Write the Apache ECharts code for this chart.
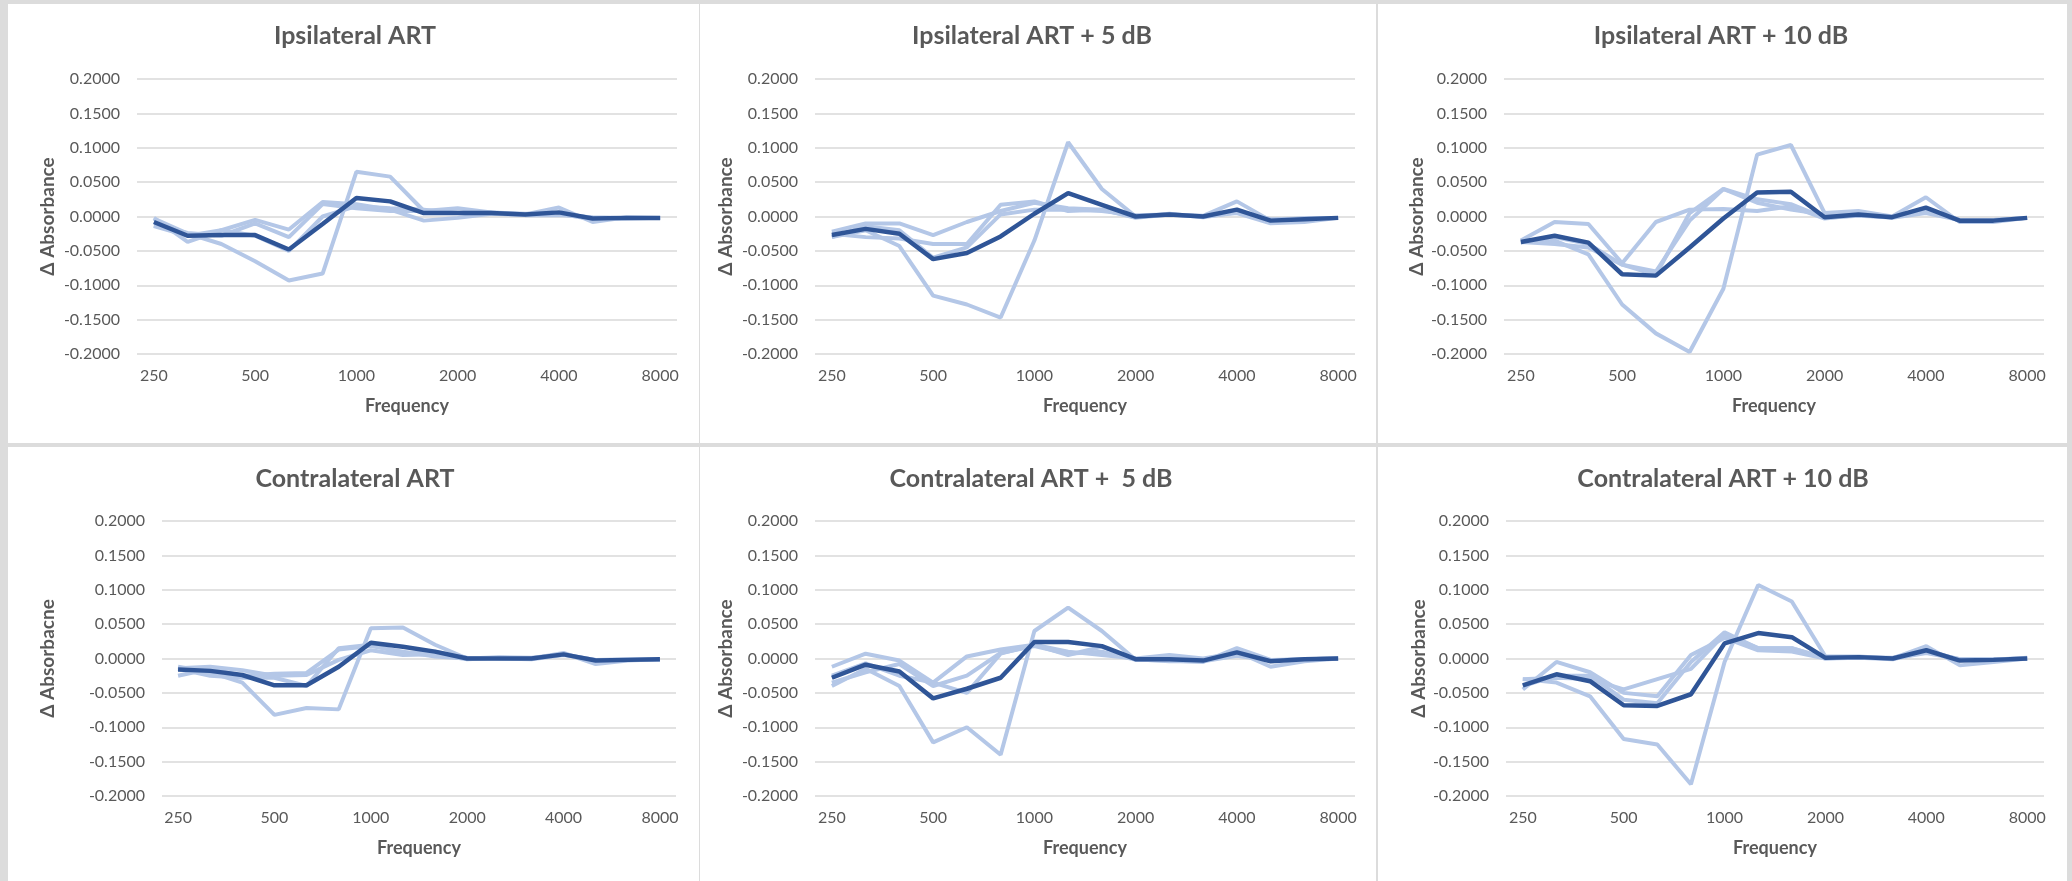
<!DOCTYPE html>
<html>
<head>
<meta charset="utf-8">
<script src="https://cdn.jsdelivr.net/npm/echarts@6/dist/echarts.min.js"></script>
<style>
html,body{margin:0;padding:0;background:#dcdcdc;}
#c{width:2072px;height:881px;}
</style>
</head>
<body>
<div id="c"></div>
<script>
// ---- categories & tick labels ----
const frequencies = ['250','315','400','500','630','800','1000','1250','1600','2000','2500','3150','4000','5000','6300','8000'];
const yTickMin = -0.2, yTickMax = 0.2, yTickStep = 0.05;

// ---- titles ----
const titles = ['Ipsilateral ART','Ipsilateral ART + 5 dB','Ipsilateral ART + 10 dB',
                'Contralateral ART','Contralateral ART +  5 dB','Contralateral ART + 10 dB'];
const yNames = ['Δ Absorbance','Δ Absorbance','Δ Absorbance','Δ Absorbacne','Δ Absorbance','Δ Absorbance'];
const xName = 'Frequency';

// ---- Ipsilateral ART ----
const ipsi0_a = [-0.003,-0.025,-0.040,-0.065,-0.093,-0.083, 0.065, 0.058, 0.008, 0.012, 0.006, 0.004, 0.004,-0.004,-0.003,-0.002];
const ipsi0_b = [-0.002,-0.037,-0.020,-0.005,-0.019, 0.021, 0.018, 0.010,-0.006,-0.002, 0.004, 0.002, 0.002,-0.001,-0.002,-0.002];
const ipsi0_c = [-0.013,-0.024,-0.028,-0.010,-0.030, 0.018, 0.012, 0.008, 0.008, 0.005, 0.006, 0.003, 0.005,-0.002,-0.002,-0.002];
const ipsi0_d = [-0.014,-0.028,-0.020,-0.028,-0.050, 0.000, 0.015, 0.012, 0.010, 0.005, 0.004, 0.003, 0.013,-0.008,-0.001,-0.002];
const ipsi0_mean = [-0.008,-0.028,-0.027,-0.027,-0.048,-0.011, 0.027, 0.022, 0.005, 0.005, 0.005, 0.003, 0.006,-0.003,-0.002,-0.002];

// ---- Ipsilateral ART + 5 dB ----
const ipsi5_a = [-0.030,-0.020,-0.043,-0.115,-0.128,-0.147,-0.035, 0.108, 0.040, 0.000, 0.003, 0.000, 0.005,-0.010,-0.008,-0.002];
const ipsi5_b = [-0.022,-0.010,-0.010,-0.027,-0.008, 0.008, 0.020, 0.012, 0.010,-0.002, 0.003, 0.000, 0.008,-0.004,-0.003,-0.002];
const ipsi5_c = [-0.025,-0.030,-0.032,-0.040,-0.040, 0.017, 0.022, 0.008, 0.010,-0.001, 0.004,-0.001, 0.006,-0.005,-0.003,-0.002];
const ipsi5_d = [-0.030,-0.014,-0.020,-0.060,-0.045, 0.003, 0.010, 0.010, 0.008, 0.002, 0.003, 0.001, 0.022,-0.006,-0.003,-0.002];
const ipsi5_mean = [-0.027,-0.018,-0.025,-0.062,-0.053,-0.029, 0.004, 0.034, 0.017, 0.000, 0.003, 0.000, 0.010,-0.006,-0.004,-0.002];

// ---- Ipsilateral ART + 10 dB ----
const ipsi10_a = [-0.035,-0.035,-0.055,-0.128,-0.170,-0.197,-0.105, 0.090, 0.104, 0.005, 0.008, 0.000, 0.028,-0.008,-0.008,-0.002];
const ipsi10_b = [-0.035,-0.008,-0.011,-0.068,-0.008, 0.010, 0.011, 0.008, 0.015,-0.003, 0.002,-0.002, 0.005,-0.005,-0.005,-0.002];
const ipsi10_c = [-0.037,-0.040,-0.045,-0.070,-0.080,-0.006, 0.040, 0.025, 0.018,-0.002, 0.001,-0.001, 0.010,-0.005,-0.006,-0.002];
const ipsi10_d = [-0.038,-0.030,-0.040,-0.070,-0.085, 0.005, 0.040, 0.020, 0.010, 0.003, 0.002,-0.001, 0.010,-0.006,-0.005,-0.002];
const ipsi10_mean = [-0.037,-0.028,-0.038,-0.084,-0.086,-0.045,-0.003, 0.035, 0.036,-0.001, 0.003,-0.001, 0.013,-0.006,-0.006,-0.002];

// ---- Contralateral ART ----
const contra0_a = [-0.012,-0.020,-0.035,-0.082,-0.072,-0.074, 0.044, 0.045, 0.020, 0.000, 0.001, 0.000, 0.008,-0.008,-0.003,-0.001];
const contra0_b = [-0.025,-0.015,-0.025,-0.022,-0.021, 0.013, 0.018, 0.010, 0.003, 0.000, 0.002, 0.001, 0.006,-0.003,-0.002,-0.001];
const contra0_c = [-0.015,-0.025,-0.028,-0.028,-0.040, 0.015, 0.020, 0.008, 0.010, 0.001, 0.000,-0.001, 0.005,-0.002,-0.002,-0.001];
const contra0_d = [-0.014,-0.012,-0.017,-0.025,-0.024,-0.002, 0.012, 0.005, 0.006,-0.001, 0.001, 0.000, 0.006,-0.002,-0.001,-0.001];
const contra0_mean = [-0.016,-0.018,-0.024,-0.039,-0.039,-0.012, 0.023, 0.017, 0.010, 0.000, 0.000, 0.000, 0.006,-0.003,-0.002,-0.001];

// ---- Contralateral ART + 5 dB ----
const contra5_a = [-0.040,-0.015,-0.040,-0.122,-0.100,-0.140, 0.040, 0.074, 0.040,-0.002, 0.000,-0.003, 0.010,-0.012,-0.004, 0.000];
const contra5_b = [-0.012, 0.007,-0.003,-0.035, 0.003, 0.013, 0.020, 0.010, 0.005, 0.000, 0.005, 0.000, 0.008,-0.003,-0.001, 0.000];
const contra5_c = [-0.035,-0.020,-0.008,-0.040,-0.025, 0.008, 0.018, 0.007, 0.010,-0.002,-0.003,-0.005, 0.015,-0.002,-0.001, 0.000];
const contra5_d = [-0.025,-0.007,-0.025,-0.035,-0.050, 0.007, 0.020, 0.005, 0.017,-0.001,-0.004,-0.004, 0.004,-0.003,-0.001, 0.000];
const contra5_mean = [-0.028,-0.009,-0.019,-0.058,-0.044,-0.028, 0.024, 0.024, 0.018,-0.001,-0.001,-0.003, 0.009,-0.004,-0.001, 0.000];

// ---- Contralateral ART + 10 dB ----
const contra10_a = [-0.030,-0.035,-0.055,-0.117,-0.125,-0.183,-0.005, 0.107, 0.083, 0.003, 0.003, 0.000, 0.018,-0.010,-0.005, 0.000];
const contra10_b = [-0.045,-0.005,-0.020,-0.050,-0.055, 0.005, 0.030, 0.012, 0.010, 0.000, 0.002, 0.001, 0.012,-0.002,-0.002, 0.001];
const contra10_c = [-0.030,-0.028,-0.030,-0.045,-0.030,-0.015, 0.035, 0.015, 0.015, 0.000, 0.001,-0.001, 0.010,-0.001,-0.001, 0.000];
const contra10_d = [-0.040,-0.025,-0.025,-0.060,-0.065,-0.005, 0.038, 0.015, 0.015, 0.001, 0.002, 0.000, 0.008,-0.001,-0.001, 0.000];
const contra10_mean = [-0.039,-0.023,-0.033,-0.068,-0.069,-0.052, 0.022, 0.037, 0.031, 0.001, 0.002, 0.000, 0.012,-0.003,-0.002, 0.000];

const panelData = [
  {lights:[ipsi0_a,ipsi0_b,ipsi0_c,ipsi0_d], mean: ipsi0_mean},
  {lights:[ipsi5_a,ipsi5_b,ipsi5_c,ipsi5_d], mean: ipsi5_mean},
  {lights:[ipsi10_a,ipsi10_b,ipsi10_c,ipsi10_d], mean: ipsi10_mean},
  {lights:[contra0_a,contra0_b,contra0_c,contra0_d], mean: contra0_mean},
  {lights:[contra5_a,contra5_b,contra5_c,contra5_d], mean: contra5_mean},
  {lights:[contra10_a,contra10_b,contra10_c,contra10_d], mean: contra10_mean}
];

// ---- layout (positions / styles) ----
const layout = [
  {left:137, top:79,  width:540, height:275, titleX:355,  titleY:23,  nameGap:80},
  {left:815, top:79,  width:540, height:275, titleX:1032, titleY:23,  nameGap:80},
  {left:1504,top:79,  width:540, height:275, titleX:1721, titleY:23,  nameGap:78},
  {left:162, top:521, width:514, height:275, titleX:355,  titleY:466, nameGap:105},
  {left:815, top:521, width:540, height:275, titleX:1031, titleY:466, nameGap:80},
  {left:1506,top:521, width:538, height:275, titleX:1723, titleY:466, nameGap:78}
];
const panelRects = [
  [8,4,691,439],[700,4,676,439],[1378,4,689,439],
  [8,447,691,434],[700,447,676,434],[1378,447,689,434]
];
const LIGHT = '#b4c7e7', DARK = '#2f5597', TXT = '#595959', GRIDC = '#d9d9d9';
const FONT = 'Lato, "Open Sans", sans-serif';

const option = {
  animation:false,
  backgroundColor:'#dcdcdc',
  graphic: panelRects.map(r => ({type:'rect', shape:{x:r[0],y:r[1],width:r[2],height:r[3]}, style:{fill:'#ffffff'}, z:-10, silent:true})),
  title: titles.map((t,i)=>({text:t, left:layout[i].titleX, top:layout[i].titleY, textAlign:'center', padding:0,
    textStyle:{fontFamily:FONT, fontSize:25, fontWeight:'bold', color:TXT}})),
  grid: layout.map(l=>({left:l.left, top:l.top, width:l.width, height:l.height, containLabel:false})),
  xAxis: layout.map((l,i)=>({type:'category', gridIndex:i, data:frequencies, boundaryGap:true,
    name:xName, nameLocation:'middle', nameGap:43,
    nameTextStyle:{fontFamily:FONT, fontSize:18, fontWeight:'bold', color:TXT},
    axisLine:{show:false}, axisTick:{show:false},
    axisLabel:{interval:2, margin:14, fontFamily:FONT, fontSize:16, color:TXT}})),
  yAxis: layout.map((l,i)=>({type:'value', gridIndex:i, min:yTickMin, max:yTickMax, interval:yTickStep,
    name:yNames[i], nameLocation:'middle', nameRotate:90, nameGap:l.nameGap,
    nameTextStyle:{fontFamily:FONT, fontSize:19, fontWeight:'bold', color:TXT},
    axisLine:{show:false}, axisTick:{show:false},
    splitLine:{lineStyle:{color:GRIDC, width:1.5}},
    axisLabel:{margin:17, fontFamily:FONT, fontSize:16, color:TXT, formatter:v=>v.toFixed(4)}})),
  series: []
};
panelData.forEach((p,i)=>{
  p.lights.forEach(arr=>{
    option.series.push({type:'line', xAxisIndex:i, yAxisIndex:i, data:arr, symbol:'none',
      lineStyle:{color:LIGHT, width:4}, itemStyle:{color:LIGHT}, z:2});
  });
  option.series.push({type:'line', xAxisIndex:i, yAxisIndex:i, data:p.mean, symbol:'none',
    lineStyle:{color:DARK, width:4.5}, itemStyle:{color:DARK}, z:3});
});
const chart = echarts.init(document.getElementById('c'), null, {renderer:'canvas'});
chart.setOption(option);
</script>
</body>
</html>
